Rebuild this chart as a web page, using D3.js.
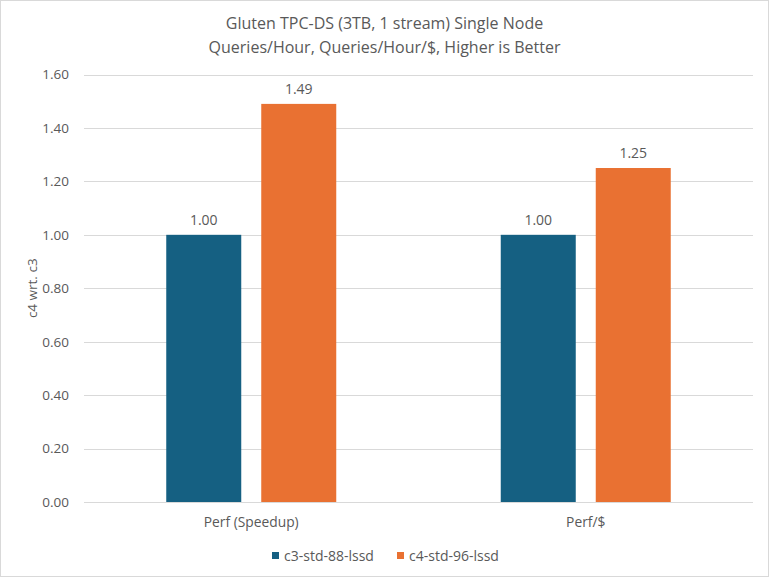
<!DOCTYPE html>
<html><head><meta charset="utf-8">
<script src="https://cdn.jsdelivr.net/npm/d3@7"></script>
<style>
html,body{margin:0;padding:0;background:#fff;}
svg{display:block;}
text{font-family:"Open Sans",sans-serif;fill:#595959;}
</style></head>
<body>
<svg id="chart" width="769" height="577"></svg>
<script>
const titleLines = ["Gluten TPC-DS (3TB, 1 stream) Single Node", "Queries/Hour, Queries/Hour/$, Higher is Better"];
const categories = ["Perf (Speedup)", "Perf/$"];
const seriesNames = ["c3-std-88-lssd", "c4-std-96-lssd"];
const c3Values = [1.00, 1.00];
const c4Values = [1.49, 1.25];
const yTicks = [0, 0.2, 0.4, 0.6, 0.8, 1.0, 1.2, 1.4, 1.6];
const yLabel = "c4 wrt. c3";
const colors = ["#156082", "#E97132"];

const seriesValues = [c3Values, c4Values];
const svg = d3.select("#chart");
const W = 769, H = 577;
const m = {left: 84, right: 16, top: 74.5, bottom: 75};

svg.append("rect").attr("x",0.5).attr("y",0.5).attr("width",W-1).attr("height",H-1)
  .attr("fill","#fff").attr("stroke","#d9d9d9");

const y = d3.scaleLinear().domain([0,1.6]).range([H-m.bottom, m.top]);
const x0 = d3.scaleBand().domain(categories).range([m.left, W-m.right]).padding(0);
const x1 = d3.scaleBand().domain(seriesNames).range([0,170]).paddingInner(20/95).paddingOuter(0);
const groupOffset = (x0.bandwidth()-170)/2;

// gridlines
svg.append("g").selectAll("line").data(yTicks).join("line")
  .attr("x1", m.left).attr("x2", W-m.right)
  .attr("y1", d=>Math.round(y(d))+0.5).attr("y2", d=>Math.round(y(d))+0.5)
  .attr("stroke","#d9d9d9").attr("stroke-width",1);

// y axis labels
const yAxis = d3.axisLeft(y).tickValues(yTicks).tickFormat(d3.format(".2f")).tickSize(0).tickPadding(15);
const ya = svg.append("g").attr("transform",`translate(${m.left},0)`).call(yAxis);
ya.select(".domain").remove();
ya.selectAll("text").style("font-family","'Open Sans',sans-serif").style("font-size","13.5px").attr("fill","#595959");

// bars
const groups = svg.append("g").selectAll("g").data(categories).join("g")
  .attr("transform", c=>`translate(${x0(c)+groupOffset},0)`);
groups.selectAll("rect").data((c,i)=>seriesNames.map((s,j)=>({s, v:seriesValues[j][i], j})))
  .join("rect")
  .attr("x", d=>x1(d.s)).attr("width", x1.bandwidth())
  .attr("y", d=>y(d.v)).attr("height", d=>y(0)-y(d.v))
  .attr("fill", d=>colors[d.j]);
groups.selectAll("text.val").data((c,i)=>seriesNames.map((s,j)=>({s, v:seriesValues[j][i], j})))
  .join("text").attr("class","val")
  .attr("x", d=>x1(d.s)+x1.bandwidth()/2).attr("y", d=>y(d.v)-10)
  .attr("text-anchor","middle").style("font-size","14px")
  .text(d=>d3.format(".2f")(d.v));

// baseline
svg.append("line").attr("x1",m.left).attr("x2",W-m.right)
  .attr("y1",Math.round(y(0))+0.5).attr("y2",Math.round(y(0))+0.5).attr("stroke","#d9d9d9");

// x axis labels
const xAxis = d3.axisBottom(x0).tickSize(0).tickPadding(15);
const xa = svg.append("g").attr("transform",`translate(0,${y(0)})`).call(xAxis);
xa.select(".domain").remove();
xa.selectAll("text").style("font-family","'Open Sans',sans-serif").style("font-size","13.8px").attr("fill","#595959");

// title
svg.append("g").selectAll("text").data(titleLines).join("text")
  .attr("x", W/2).attr("y",(d,i)=>28.5+i*24).attr("text-anchor","middle")
  .style("font-size","16px").text(d=>d);

// y label
svg.append("text").attr("transform",`translate(37,${(y(0)+y(1.6))/2}) rotate(-90)`)
  .attr("text-anchor","middle").style("font-size","13.5px").text(yLabel);

// legend
const leg = svg.append("g");
const legX = [272, 397];
seriesNames.forEach((s,j)=>{
  leg.append("rect").attr("x",legX[j]).attr("y",552).attr("width",7).attr("height",7).attr("fill",colors[j]);
  leg.append("text").attr("x",legX[j]+12).attr("y",560.5).style("font-size","14px").text(s);
});
</script>
</body></html>
